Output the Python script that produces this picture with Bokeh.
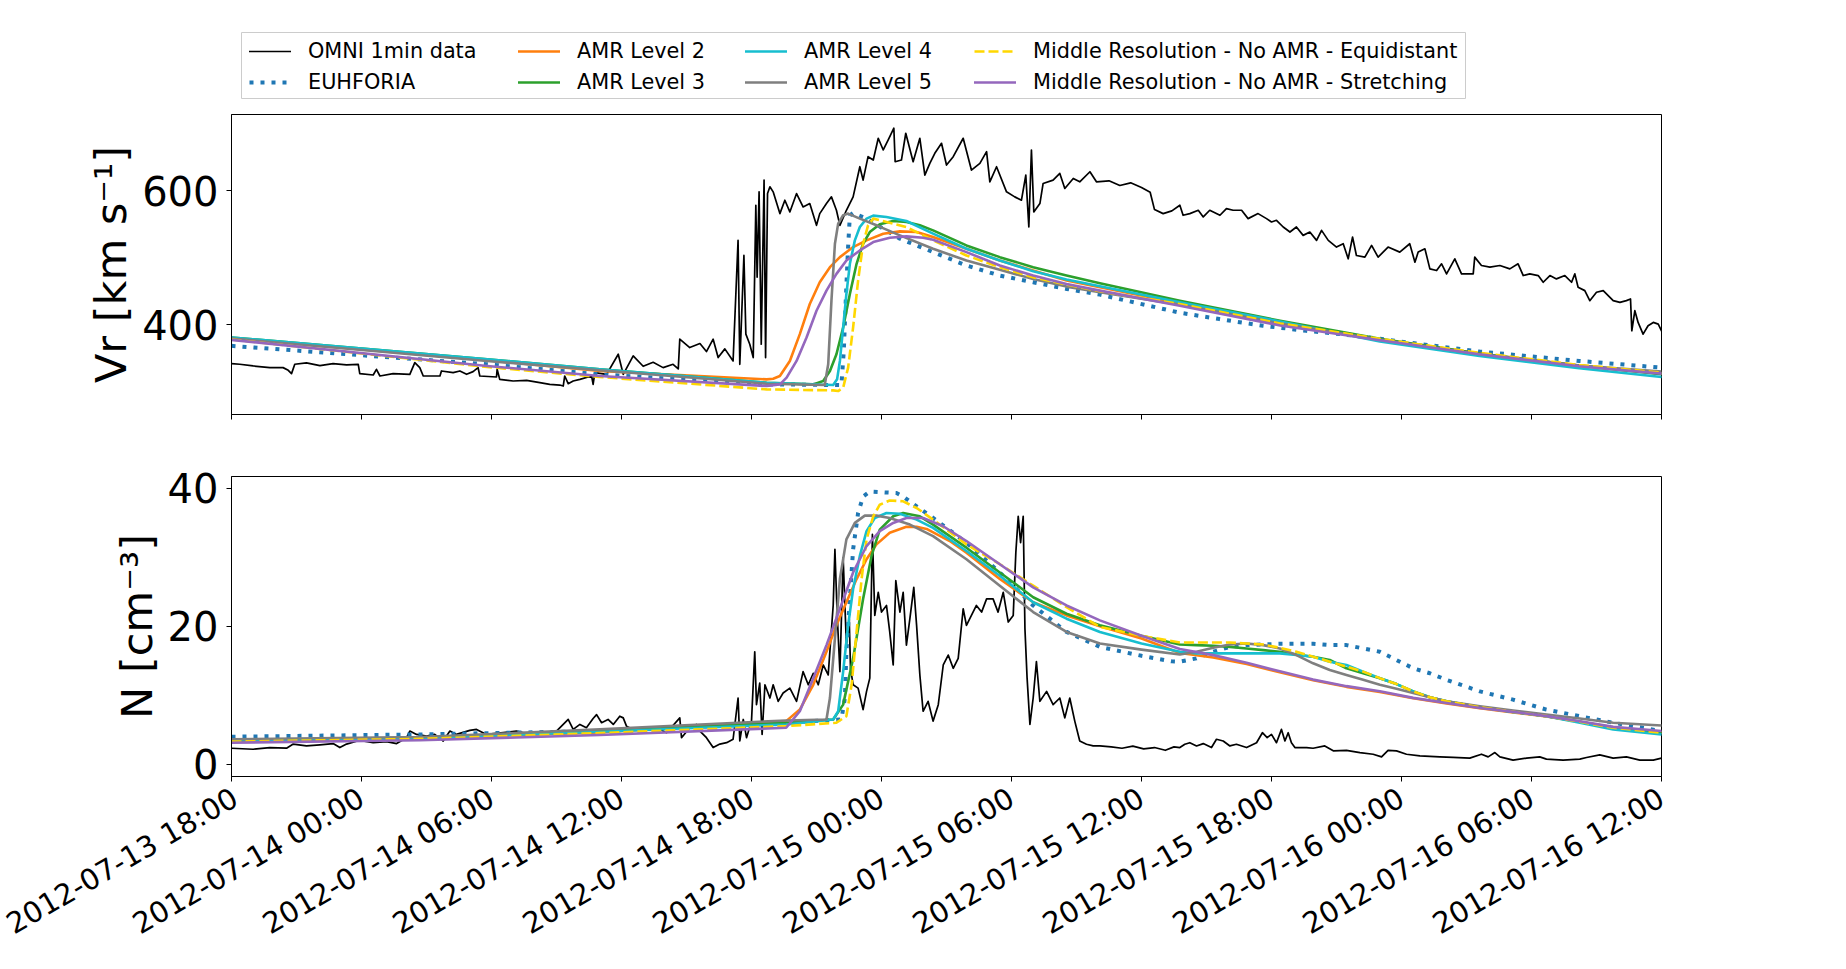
import math
import numpy as np
import pandas as pd
from bokeh.plotting import figure
from bokeh.layouts import column
from bokeh.models import (Range1d, FixedTicker, DatetimeTickFormatter, CustomJSTickFormatter,
                          Legend, LegendItem)
from bokeh.embed import file_html
from bokeh.resources import INLINE

# ---------------- axes / ticks ----------------
START = "2012-07-13 18:00"
END = "2012-07-16 12:00"
tick_labels = ["2012-07-13 18:00", "2012-07-14 00:00", "2012-07-14 06:00", "2012-07-14 12:00",
               "2012-07-14 18:00", "2012-07-15 00:00", "2012-07-15 06:00", "2012-07-15 12:00",
               "2012-07-15 18:00", "2012-07-16 00:00", "2012-07-16 06:00", "2012-07-16 12:00"]
vr_ticks = [400, 600]
n_ticks = [0, 20, 40]
vr_limits = [266.0, 714.0]
n_limits = [-1.8, 41.7]
vr_label = "Vr [km s\u207b\u00b9]"
n_label = "N [cm\u207b\u00b3]"

names = ["OMNI 1min data", "EUHFORIA", "AMR Level 2", "AMR Level 3", "AMR Level 4",
         "AMR Level 5", "Middle Resolution - No AMR - Equidistant",
         "Middle Resolution - No AMR - Stretching"]

# ---------------- data (hours after 2012-07-13 18:00) ----------------
# OMNI radial speed
vr_omni_h = [0.0, 0.38, 1.0, 1.77, 2.38, 2.62, 2.77, 2.92, 3.46, 4.08,
             4.69, 5.31, 5.85, 5.92, 6.54, 6.69, 6.85, 7.46, 8.23, 8.46,
             8.69, 8.85, 9.62, 9.69, 10.23, 10.54, 10.85, 11.15, 11.38, 11.46,
             12.23, 12.26, 12.38, 13.0, 13.62, 14.23, 14.69, 15.15, 15.31, 15.38,
             15.54, 15.77, 16.08, 16.62, 16.69, 16.77, 17.31, 17.85, 18.08, 18.54,
             19.0, 19.46, 19.92, 20.38, 20.62, 20.69, 21.15, 21.62, 21.92, 22.23,
             22.46, 22.77, 23.15, 23.38, 23.46, 23.65, 23.74, 23.92, 24.08, 24.2,
             24.26, 24.35, 24.45, 24.51, 24.58, 24.65, 24.74, 24.85, 25.0, 25.31,
             25.54, 25.77, 26.08, 26.38, 26.69, 27.0, 27.15, 27.46, 27.69, 27.92,
             28.08, 28.38, 28.69, 29.0, 29.15, 29.38, 29.62, 29.85, 30.08, 30.31,
             30.57, 30.63, 30.92, 31.12, 31.46, 31.77, 32.0, 32.23, 32.46, 32.77,
             33.0, 33.31, 33.77, 34.15, 34.54, 34.85, 35.0, 35.31, 35.77, 36.15,
             36.46, 36.66, 36.8, 36.92, 37.03, 37.31, 37.46, 37.92, 38.23, 38.46,
             38.85, 39.15, 39.62, 39.92, 40.5, 41.0, 41.5, 42.0, 42.4, 42.6,
             43.0, 43.4, 43.77, 43.92, 44.23, 44.62, 44.85, 45.15, 45.62, 45.92,
             46.23, 46.62, 46.92, 47.38, 47.77, 48.0, 48.23, 48.54, 48.85, 49.15,
             49.46, 49.77, 50.08, 50.31, 50.62, 51.0, 51.31, 51.54, 51.74, 51.92,
             52.31, 52.62, 52.92, 53.38, 53.92, 54.38, 54.62, 54.77, 55.08, 55.31,
             55.62, 55.85, 56.08, 56.46, 56.77, 57.31, 57.38, 57.69, 58.08, 58.54,
             59.0, 59.38, 59.62, 59.92, 60.31, 60.54, 60.85, 61.15, 61.54, 61.85,
             62.0, 62.15, 62.46, 62.69, 63.0, 63.31, 63.77, 64.08, 64.38, 64.57,
             64.63, 64.77, 64.92, 65.15, 65.38, 65.62, 65.85, 66.0]
vr_omni_v = [342, 341, 338.5, 336, 336, 332, 327, 341, 343, 339,
             342, 340, 341, 327, 325, 333.5, 323.5, 327, 326, 343.5,
             336, 323.5, 323.5, 331, 328.5, 331, 326, 330, 336, 323.5,
             322, 333.5, 318.5, 316, 317, 313.5, 311, 310, 308.5, 323.5,
             312, 316, 318.5, 323.5, 311, 328.5, 326, 356, 326, 353.5,
             338, 344, 336, 341, 334, 378.5, 366, 372, 360, 378.5,
             351, 364, 346, 526, 341, 503.5, 386, 371, 351, 578.5,
             471, 598.5, 371, 486, 616, 351, 596, 606, 598.5, 566,
             586, 568.5, 596, 576, 581, 548.5, 566, 581, 591, 571,
             548.5, 571, 591, 636, 616, 651, 646, 678.5, 661, 676,
             693.5, 643.5, 646, 686, 643.5, 678.5, 623.5, 641, 656, 671,
             638.5, 651, 678.5, 631, 641, 658.5, 613.5, 636, 598.5, 591,
             586, 623.5, 546, 661, 568.5, 581, 611, 616, 626, 603.5,
             618.5, 613.5, 628.5, 613.5, 615, 608, 612, 605, 598, 572,
             566, 570, 578.5, 563.5, 566, 571, 561, 571, 563.5, 573.5,
             571, 571, 558.5, 566, 558.5, 553.5, 556, 546, 538.5, 546,
             533.5, 538.5, 526, 541, 526, 516, 521, 498.5, 531, 503.5,
             501, 518.5, 501, 516, 508.5, 521, 493.5, 508.5, 513.5, 483.5,
             481, 491, 476, 498.5, 476, 476, 501, 488.5, 486, 488.5,
             483.5, 491, 473.5, 476, 473.5, 463.5, 473.5, 468.5, 473.5, 463.5,
             476, 456, 451, 436, 448.5, 451, 436, 433.5, 436, 438.5,
             391, 421, 403.5, 386, 398.5, 403.5, 401, 391]

# model radial speeds
vr_euh_h = [0, 11.8, 17, 24.7, 28.15, 28.26, 28.35, 28.45, 28.54, 28.69, 29.31, 30.08, 30.85, 32.38,
            33.92, 35.46, 37.0, 38.54, 40.08, 43.77, 45.6, 47.6, 49.6, 51.2, 53.0, 57.6, 62.2, 66]
vr_euh_v = [368.5, 341, 326, 311, 310, 361, 436, 511, 563.5, 567, 558.5, 543.5, 528.5, 508.5,
            488.5, 473.5, 463.5, 453.5, 445, 418, 408.5, 398.5, 391, 386, 379, 360, 346, 336]
vr_amr2_h = [0, 11.8, 17, 24.7, 25.0, 25.31, 25.77, 26.23, 26.69, 27.15, 27.62, 28.08, 28.69, 29.31, 30.08,
             30.85, 31.62, 32.38, 33.92, 35.46, 37.0, 38.54, 40.08, 43.77, 48.4, 53.0, 57.6, 62.2, 66]
vr_amr2_v = [380, 347, 331, 318.5, 319.5, 323.5, 346, 386, 431, 463.5, 486, 501, 516, 526, 536,
             539.5, 538.5, 531, 513.5, 496, 481, 466, 456, 432, 402, 378, 357, 339, 327]
vr_amr3_h = [0, 11.8, 17, 24.7, 26.85, 27.31, 27.62, 27.92, 28.23, 28.54, 28.85, 29.15, 29.46, 29.92, 30.54,
             31.15, 31.77, 32.38, 33.92, 35.46, 37.0, 38.54, 40.08, 43.77, 48.4, 53.0, 57.6, 62.2, 66]
vr_amr3_v = [381, 348.5, 333.5, 313.5, 311, 316, 331, 356, 396, 446, 491, 521, 538.5, 550, 555,
             553.5, 548.5, 541, 518.5, 501, 486, 473.5, 462, 436, 406, 379, 357, 339, 326]
vr_amr4_h = [0, 11.8, 17, 24.7, 27.77, 27.95, 28.08, 28.23, 28.38, 28.54, 28.77, 29.0, 29.31, 29.62,
             30.23, 31.15, 32.38, 33.92, 35.46, 37.0, 38.54, 40.08, 43.77, 48.4, 53.0, 57.6, 62.2, 66]
vr_amr4_v = [381, 348.5, 333.5, 313.5, 310, 318.5, 346, 396, 446, 491, 526, 546, 558.5, 563,
             561, 555, 536, 513.5, 496, 480, 467.5, 457.5, 433.5, 405, 375, 353.5, 335, 322]
vr_amr5_h = [0, 11.8, 17, 24.7, 27.38, 27.54, 27.69, 27.85, 28.0, 28.23, 28.46, 29.0, 29.77,
             30.85, 32.38, 33.92, 35.46, 37.0, 38.54, 40.08, 43.77, 48.4, 53.0, 57.6, 62.2, 66]
vr_amr5_v = [379.5, 346, 332, 312, 310, 341, 436, 521, 551, 563.5, 566, 558.5, 548.5,
             533.5, 513.5, 496, 482, 468.5, 457, 448.5, 430, 402, 378, 356, 339, 330]
vr_equi_h = [0, 11.8, 17, 24.7, 27.77, 28.0, 28.23, 28.46, 28.69, 28.92, 29.15, 29.38, 29.62, 30.23,
             31.15, 32.38, 33.92, 35.46, 37.0, 38.54, 40.08, 43.77, 48.4, 53.0, 57.6, 62.2, 66]
vr_equi_v = [378, 337, 322, 303.5, 302, 301, 306, 336, 396, 466, 521, 548.5, 558.5, 553.5,
             546, 526, 503.5, 486, 471, 460, 450, 431, 402, 379, 358, 340, 328.5]
vr_str_h = [0, 11.8, 17, 24.7, 25.31, 25.62, 26.08, 26.54, 27.0, 27.46, 27.92, 28.38, 29.0, 29.62, 30.38,
            31.15, 31.92, 32.38, 33.92, 35.46, 37.0, 38.54, 40.08, 43.77, 48.4, 53.0, 57.6, 62.2, 66]
vr_str_v = [377.5, 338.5, 323.5, 308.5, 311, 321, 346, 381, 421, 451, 476, 496, 511, 523.5, 530,
            532, 530, 527, 508.5, 488.5, 473.5, 461, 451, 428.5, 399, 377, 356, 338, 327]

# OMNI density
n_omni_h = [0.0, 1.0, 1.77, 2.54, 2.85, 3.46, 4.08, 4.69, 5.0, 5.31,
            5.92, 6.54, 7.15, 7.62, 8.08, 8.23, 8.54, 9.0, 9.38, 9.77,
            10.08, 10.38, 11.0, 11.31, 11.77, 12.54, 13.15, 13.77, 14.38, 15.0,
            15.31, 15.54, 15.77, 16.08, 16.38, 16.69, 16.85, 17.08, 17.38, 17.62,
            17.92, 18.08, 18.23, 18.54, 19.0, 19.62, 20.08, 20.69, 20.77, 21.15,
            21.46, 21.62, 21.92, 22.23, 22.54, 22.85, 23.15, 23.38, 23.46, 23.62,
            23.77, 24.0, 24.15, 24.23, 24.38, 24.49, 24.62, 24.85, 25.0, 25.23,
            25.46, 25.77, 26.08, 26.38, 26.62, 26.85, 27.08, 27.31, 27.54, 27.77,
            27.85, 27.95, 28.08, 28.23, 28.38, 28.51, 28.57, 28.69, 28.92, 29.15,
            29.31, 29.46, 29.58, 29.69, 29.85, 30.0, 30.23, 30.38, 30.54, 30.66,
            30.85, 31.0, 31.15, 31.31, 31.49, 31.62, 31.77, 31.92, 32.15, 32.38,
            32.62, 32.85, 33.08, 33.31, 33.54, 33.77, 33.92, 34.15, 34.38, 34.62,
            34.85, 35.15, 35.38, 35.62, 35.85, 36.08, 36.2, 36.31, 36.42, 36.54,
            36.62, 36.72, 36.85, 37.0, 37.15, 37.31, 37.62, 37.92, 38.23, 38.46,
            38.69, 38.92, 39.15, 39.46, 39.77, 40.08, 40.6, 41.1, 41.6, 42.1,
            42.6, 43.1, 43.5, 43.77, 44.0, 44.23, 44.54, 44.85, 45.23, 45.46,
            45.77, 46.08, 46.38, 46.85, 47.31, 47.58, 47.8, 48.0, 48.23, 48.46,
            48.62, 48.77, 48.92, 49.08, 49.62, 49.92, 50.46, 50.85, 51.46, 52.08,
            52.69, 53.08, 53.38, 53.77, 54.23, 54.85, 55.77, 56.38, 57.15, 57.69,
            58.0, 58.31, 58.54, 59.15, 59.77, 60.38, 60.69, 61.46, 62.23, 62.54,
            63.15, 63.77, 64.38, 65.0, 65.62, 66.0]
n_omni_v = [2.3, 2.15, 2.4, 2.3, 2.9, 2.63, 2.78, 2.97, 2.4, 2.9,
            3.45, 3.1, 3.25, 2.97, 3.83, 4.79, 4.3, 4.07, 4.3, 3.35,
            4.79, 4.3, 4.88, 5.03, 4.3, 4.55, 4.79, 4.3, 4.3, 4.79,
            5.75, 6.47, 5.03, 5.75, 5.27, 6.61, 7.18, 6.0, 6.47, 5.75,
            6.95, 6.7, 5.5, 5.03, 4.79, 5.27, 4.55, 6.7, 3.83, 5.27,
            5.75, 4.79, 3.83, 2.4, 2.9, 3.1, 3.6, 9.58, 3.35, 6.47,
            3.83, 6.23, 16.29, 8.62, 11.74, 4.3, 11.5, 9.58, 11.5, 9.1,
            10.3, 11.02, 9.1, 13.41, 11.5, 13.17, 11.5, 14.37, 12.93, 23.0,
            31.14, 22.04, 13.41, 29.94, 17.25, 21.08, 13.89, 11.5, 11.02, 7.9,
            10.54, 12.46, 33.3, 21.56, 24.91, 22.04, 23.0, 19.16, 14.37, 26.59,
            22.04, 24.91, 17.25, 21.08, 25.63, 20.12, 12.93, 7.66, 9.1, 6.23,
            8.62, 14.37, 15.81, 13.89, 15.33, 22.52, 20.12, 21.56, 23.0, 22.04,
            23.95, 23.95, 22.04, 24.91, 20.6, 21.56, 30.66, 35.93, 32.1, 35.93,
            19.64, 12.46, 5.75, 9.58, 14.85, 9.1, 10.54, 8.62, 9.58, 6.7,
            9.58, 6.23, 3.35, 2.87, 2.63, 2.63, 2.5, 2.3, 2.6, 2.2,
            2.4, 2.0, 2.5, 2.4, 2.87, 3.1, 2.63, 2.97, 2.4, 3.6,
            3.35, 2.63, 2.87, 2.4, 3.1, 4.55, 3.83, 4.3, 3.1, 5.03,
            3.35, 4.55, 3.1, 2.4, 2.4, 2.3, 2.63, 1.92, 2.0, 1.67,
            1.43, 1.05, 2.0, 1.92, 1.43, 1.19, 1.05, 0.96, 0.86, 1.43,
            1.05, 1.67, 1.05, 0.57, 0.86, 1.05, 0.72, 0.57, 0.72, 0.96,
            1.34, 0.86, 1.05, 0.57, 0.57, 0.86]

# model densities
n_euh_h = [0, 8.7, 17, 25.6, 28.15, 28.31, 28.38, 28.54, 28.69, 28.92, 29.15, 29.46, 30.23, 30.69, 31.0,
           31.62, 32.38, 33.92, 35.46, 37.0, 38.54, 40.08, 42.0, 43.4, 43.77, 44.54, 45.31, 46.08, 46.85,
           47.62, 48.38, 49.15, 49.92, 50.69, 51.46, 52.23, 53.0, 53.77, 54.54, 55.31, 56.08, 57.62,
           59.15, 60.69, 62.23, 63.77, 66]
n_euh_v = [3.97, 4.3, 4.79, 6.0, 6.47, 9.58, 16.29, 23.95, 31.14, 36.41, 38.8, 39.52, 39.38, 39.3, 38.8,
           37.37, 35.69, 32.1, 27.79, 23.0, 19.16, 17.0, 15.7, 14.9, 14.85, 15.33, 16.29, 17.0, 17.25,
           17.34, 17.44, 17.44, 17.44, 17.25, 17.25, 16.77, 16.29, 15.09, 13.89, 13.17, 12.22, 10.54,
           9.34, 7.9, 6.95, 5.99, 4.79]
n_amr2_h = [0, 8.7, 17, 25.6, 26.23, 26.85, 27.46, 27.92, 28.38, 28.85, 29.31, 29.77, 30.38, 31.15, 31.62,
            32.08, 33.15, 33.92, 35.46, 37.0, 38.54, 40.08, 42.0, 43.77, 45.31, 46.85, 48.38, 49.92,
            51.46, 53.0, 54.54, 56.08, 57.62, 59.15, 60.69, 62.23, 63.77, 66]
n_amr2_v = [3.35, 3.7, 4.6, 6.23, 7.9, 11.5, 16.29, 20.12, 23.47, 26.83, 29.7, 31.86, 33.53, 34.4, 34.4,
            34.1, 32.34, 30.66, 26.83, 23.47, 21.56, 20.0, 18.2, 16.1, 15.45, 14.5, 13.3, 12.15,
            11.2, 10.45, 9.55, 8.8, 8.1, 7.5, 6.9, 6.15, 5.35, 4.6]
n_amr3_h = [0, 8.7, 17, 25.6, 27.77, 28.23, 28.69, 29.15, 29.54, 29.92, 30.54, 31.0, 31.77, 32.38, 33.92,
            35.46, 37.0, 38.54, 40.08, 42.0, 43.77, 44.54, 45.31, 46.08, 46.85, 47.62, 48.38, 49.15,
            49.92, 50.69, 51.46, 52.23, 53.0, 53.77, 54.54, 55.31, 56.08, 57.62, 59.15, 60.69, 62.23,
            63.77, 66]
n_amr3_v = [3.45, 3.8, 4.8, 6.0, 6.47, 8.62, 15.33, 23.95, 30.18, 34.0, 35.93, 36.41, 35.93, 34.73, 31.38,
            27.79, 24.19, 21.8, 20.12, 18.6, 17.34, 17.25, 17.15, 17.0, 16.77, 16.53, 16.29, 15.9,
            15.57, 15.09, 13.89, 13.17, 12.46, 11.6, 10.54, 9.68, 9.1, 8.24, 7.57, 6.95, 6.13,
            5.27, 4.55]
n_amr4_h = [0, 8.7, 17, 25.6, 27.77, 28.0, 28.23, 28.46, 28.69, 29.0, 29.31, 29.69, 30.23, 30.85, 31.62,
            32.38, 33.92, 35.46, 37.0, 38.54, 40.08, 42.0, 43.77, 44.54, 46.08, 47.62, 48.38, 49.15,
            49.92, 50.69, 51.46, 52.23, 53.0, 53.77, 54.54, 55.31, 56.08, 57.62, 59.15, 60.69, 62.23,
            63.77, 66]
n_amr4_v = [3.45, 3.75, 4.69, 5.75, 6.47, 7.66, 13.41, 20.12, 25.39, 30.18, 33.77, 35.69, 36.41, 36.3, 35.45,
            34.25, 30.9, 27.3, 23.47, 21.08, 19.16, 17.5, 16.29, 16.05, 16.05, 16.05, 16.05, 15.81,
            15.57, 14.85, 14.37, 13.41, 12.46, 11.6, 10.54, 9.68, 9.1, 8.24, 7.57, 6.95, 5.99,
            5.03, 4.31]
n_amr5_h = [0, 8.7, 17, 25.6, 27.46, 27.62, 27.85, 28.08, 28.38, 28.77, 29.23, 29.77, 30.38, 31.31, 32.38,
            33.92, 35.46, 37.0, 38.54, 40.08, 42.0, 43.77, 44.54, 45.31, 46.08, 46.85, 47.62, 48.38,
            49.15, 49.92, 50.69, 51.46, 52.23, 53.0, 53.77, 54.54, 55.31, 56.08, 57.62, 59.15, 60.69,
            62.23, 63.77, 66]
n_amr5_v = [3.59, 3.93, 5.03, 6.32, 6.47, 9.58, 18.2, 26.83, 32.58, 34.97, 36.03, 36.03, 35.69, 34.73, 33.06,
            29.7, 25.87, 22.04, 19.16, 17.49, 16.6, 15.9, 16.29, 16.86, 17.34, 17.49, 17.25, 16.77,
            15.81, 14.61, 13.65, 12.93, 12.22, 11.5, 10.92, 10.3, 9.68, 9.1, 8.38, 7.76, 7.18,
            6.61, 5.99, 5.6]
n_equi_h = [0, 8.7, 17, 25.6, 27.92, 28.38, 28.62, 28.85, 29.08, 29.31, 29.62, 29.92, 30.38, 31.0, 31.62,
            32.38, 33.92, 35.46, 37.0, 38.54, 40.08, 42.0, 43.77, 45.31, 46.08, 46.85, 47.62, 48.38,
            49.15, 49.92, 50.69, 51.46, 52.23, 53.0, 53.77, 54.54, 55.31, 56.08, 57.62, 59.15, 60.69,
            62.23, 63.77, 66]
n_equi_v = [3.26, 3.65, 4.5, 5.5, 6.0, 6.95, 11.5, 19.16, 26.83, 32.58, 35.93, 37.61, 38.23, 38.1, 37.13,
            35.45, 31.86, 28.98, 25.87, 22.76, 19.9, 18.6, 17.63, 17.63, 17.63, 17.49, 17.34, 16.86,
            16.29, 15.57, 14.85, 14.13, 13.41, 12.46, 11.6, 10.54, 9.68, 9.1, 8.24, 7.57, 6.95,
            6.13, 5.27, 4.55]
n_str_h = [0, 8.7, 17, 25.6, 26.23, 26.85, 27.46, 28.08, 28.69, 29.31, 29.92, 30.54, 31.15, 31.92, 32.85,
           33.92, 35.46, 37.0, 38.54, 40.08, 42.0, 43.77, 45.31, 46.85, 48.38, 49.92, 51.46, 53.0,
           54.54, 56.08, 57.62, 59.15, 60.69, 62.23, 63.77, 66]
n_str_v = [3.1, 3.45, 4.21, 5.27, 7.66, 12.46, 17.25, 22.52, 27.79, 31.62, 33.77, 34.97, 35.69, 35.69, 34.49,
           32.34, 28.98, 25.63, 23.0, 20.84, 18.6, 16.7, 15.8, 14.7, 13.45, 12.25, 11.3, 10.55,
           9.6, 8.86, 8.14, 7.57, 6.95, 6.2, 5.4, 4.79]

vr_series = [(vr_omni_h, vr_omni_v), (vr_euh_h, vr_euh_v), (vr_amr2_h, vr_amr2_v), (vr_amr3_h, vr_amr3_v),
             (vr_amr4_h, vr_amr4_v), (vr_amr5_h, vr_amr5_v), (vr_equi_h, vr_equi_v), (vr_str_h, vr_str_v)]
n_series = [(n_omni_h, n_omni_v), (n_euh_h, n_euh_v), (n_amr2_h, n_amr2_v), (n_amr3_h, n_amr3_v),
            (n_amr4_h, n_amr4_v), (n_amr5_h, n_amr5_v), (n_equi_h, n_equi_v), (n_str_h, n_str_v)]

# ---------------- styles ----------------
styles = [
    dict(line_color="black", line_width=1.7, line_dash="solid", line_cap="round"),
    dict(line_color="#1f77b4", line_width=4.0, line_dash="4 7", line_cap="butt"),
    dict(line_color="#ff7f0e", line_width=2.6, line_dash="solid", line_cap="round"),
    dict(line_color="#2ca02c", line_width=2.6, line_dash="solid", line_cap="round"),
    dict(line_color="#17becf", line_width=2.6, line_dash="solid", line_cap="round"),
    dict(line_color="#7f7f7f", line_width=2.6, line_dash="solid", line_cap="round"),
    dict(line_color="#ffd700", line_width=2.6, line_dash="10 4", line_cap="butt"),
    dict(line_color="#9467bd", line_width=2.6, line_dash="solid", line_cap="round"),
]

FONT = "DejaVu Sans"
LEFT = 231        # left border (px) shared by all rows so the frames line up
FRAME_W = 1430
RIGHT = 60


def to_ms(s):
    return pd.Timestamp(s).value / 1e6


t0_ms = to_ms(START)
tick_ms = [to_ms(s) for s in tick_labels]
x_range = Range1d(to_ms(START), to_ms(END))


def hours_to_ms(h):
    return t0_ms + np.asarray(h, dtype=float) * 3600000.0


def make_panel(top_border, bottom_border, ylim, yticks, ylabel, show_x, series):
    p = figure(frame_width=FRAME_W, frame_height=300, min_border_left=LEFT, min_border_right=RIGHT,
               min_border_top=top_border, min_border_bottom=bottom_border,
               x_axis_type="datetime", x_range=x_range, y_range=Range1d(*ylim),
               output_backend="svg", toolbar_location=None)
    p.xgrid.visible = False
    p.ygrid.visible = False
    p.outline_line_color = "black"
    p.outline_line_alpha = 1.0
    p.outline_line_width = 1
    p.background_fill_color = "white"
    p.border_fill_color = "white"
    for ax in (p.xaxis[0], p.yaxis[0]):
        ax.axis_line_color = "black"
        ax.axis_line_width = 1
        ax.major_tick_line_color = "black"
        ax.major_tick_line_width = 1
        ax.major_tick_in = 0
        ax.major_tick_out = 5
        ax.minor_tick_line_color = None
        ax.major_label_text_font = FONT
        ax.major_label_text_color = "black"
    yax = p.yaxis[0]
    yax.ticker = FixedTicker(ticks=yticks)
    yax.major_label_text_font_size = "40px"
    yax.major_label_standoff = 8
    yax.axis_label = ylabel
    yax.axis_label_text_font = FONT
    yax.axis_label_text_font_size = "43px"
    yax.axis_label_text_font_style = "normal"
    yax.axis_label_text_color = "black"
    yax.axis_label_standoff = 3
    xax = p.xaxis[0]
    xax.ticker = FixedTicker(ticks=tick_ms)
    if show_x:
        fmt = "%Y-%m-%d %H:%M"
        xax.formatter = DatetimeTickFormatter(minutes=fmt, hourmin=fmt, hours=fmt, days=fmt,
                                              months=fmt, years=fmt)
        xax.major_label_orientation = math.pi / 6
        xax.major_label_text_font_size = "29px"
        xax.major_label_standoff = 14
    else:
        xax.formatter = CustomJSTickFormatter(code="return '';")
        xax.major_label_text_font_size = "1px"
        xax.major_label_standoff = 0
    for (h, v), st in zip(series, styles):
        n = min(len(h), len(v))
        p.line(hours_to_ms(h[:n]), list(v[:n]), line_join="round", **st)
    return p


p_vr = make_panel(7, 30, vr_limits, vr_ticks, vr_label, False, vr_series)
p_n = make_panel(32, 170, n_limits, n_ticks, n_label, True, n_series)

# ---------------- legend strip (pixel coordinates inside its frame) ----------------
LEG_H = 107
lf = figure(frame_width=FRAME_W, frame_height=LEG_H, min_border_left=LEFT, min_border_right=RIGHT,
            min_border_top=0, min_border_bottom=0, x_axis_type=None, y_axis_type=None,
            x_range=Range1d(0, FRAME_W), y_range=Range1d(0, LEG_H),
            output_backend="svg", toolbar_location=None)
lf.outline_line_color = None
lf.background_fill_color = "white"
lf.border_fill_color = "white"
lf.quad(left=[10], right=[1234], bottom=[9], top=[75], fill_color=None,
        line_color="#cccccc", line_width=1)
# legend handles: renderers placed outside the visible range of the legend strip
dummies = [lf.line(x=[-10, -9], y=[-10, -9], line_join="round", **st) for st in styles]
leg_col_x = [18, 287, 514, 743]
for c in range(4):
    items = [LegendItem(label=names[2 * c + k], renderers=[dummies[2 * c + k]]) for k in range(2)]
    lg = Legend(items=items, location=(leg_col_x[c], 13.3), orientation="vertical",
                padding=0, margin=0, spacing=7, glyph_width=42, glyph_height=24, label_height=24,
                label_standoff=17, label_text_font=FONT, label_text_font_size="20.8px",
                label_text_color="black", border_line_color=None, background_fill_alpha=0)
    lf.add_layout(lg)

layout = column(lf, p_vr, p_n)
open("out.html", "w").write(file_html(layout, INLINE))
